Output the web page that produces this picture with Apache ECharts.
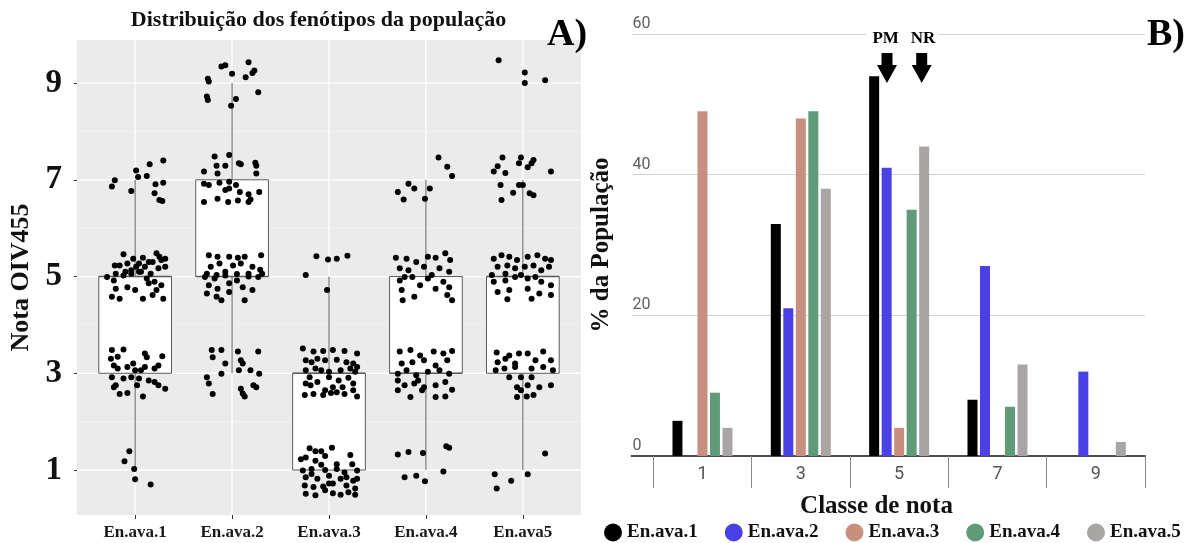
<!DOCTYPE html>
<html>
<head>
<meta charset="utf-8">
<script src="https://cdn.jsdelivr.net/npm/echarts@6/dist/echarts.min.js"></script>
<style>
html,body{margin:0;padding:0;background:#fff;}
#chart{width:1192px;height:543px;}
</style>
</head>
<body>
<div id="chart"></div>
<script>
// ---------- Panel A: distribution (boxplot + jittered points) ----------
const categories = ['En.ava.1', 'En.ava.2', 'En.ava.3', 'En.ava.4', 'En.ava5'];
const yTickValues = [1, 3, 5, 7, 9];
const yMinorValues = [2, 4, 6, 8];
const boxMin = [1, 3, 1, 1, 1];
const boxQ1  = [3, 5, 1, 3, 3];
const boxMed = [5, 5, 3, 3, 5];
const boxQ3  = [5, 7, 3, 5, 5];
const boxMax = [7, 9, 5, 7, 7];

// jittered observations: [horizontal offset from category, note value]
const jitterAva1 = [
 [-0.24,6.86],[-0.21,6.99],[-0.04,6.77],[0.01,7.19],[0.03,7.06],[0.12,7.08],[0.15,7.32],[0.20,6.72],[0.21,6.91],[0.29,6.94],[0.25,6.58],[0.28,6.56],[0.29,7.40],
 [-0.12,5.46],[-0.21,5.23],[-0.16,5.23],[-0.08,5.27],[-0.02,5.37],[0.01,5.20],[0.04,5.27],[0.08,5.39],[0.10,5.20],[0.14,5.30],[0.18,5.30],[0.22,5.48],[0.25,5.41],[0.27,5.34],[0.31,5.37],[-0.04,5.13],[-0.20,5.06],[-0.10,5.10],[0.06,5.10],[0.16,5.06],[0.24,5.17],[0.31,5.20],
 [-0.29,4.99],[-0.22,4.92],[-0.12,5.02],[-0.04,5.06],[0.04,5.10],[0.12,4.96],[0.20,4.89],[0.27,4.82],[-0.24,4.58],[-0.16,4.54],[-0.08,4.78],[0,4.72],[0.08,4.54],[0.18,4.62],[0.29,4.54],[-0.20,4.75],[0.22,4.72],[0.14,4.86],
 [-0.24,3.48],[-0.12,3.49],[0.10,3.41],[0.12,3.33],[0.28,3.35],[-0.25,3.30],[-0.22,3.16],[-0.18,3.10],[-0.08,3.13],[0,3.06],[0.06,3.06],[0.10,3.13],[0.20,3.10],[0.24,3.16],[-0.24,2.92],[-0.20,2.75],[-0.12,2.89],[-0.04,2.92],[0.04,2.89],[0.20,2.82],[0.24,2.75],[0.31,2.68],[-0.16,2.57],[-0.08,2.59],[0.08,2.52],[-0.22,2.71],[0.02,2.75],[0.14,2.85],[-0.02,3.20],[-0.18,3.34],
 [-0.06,1.39],[-0.11,1.18],[-0.01,1.02],[0,0.81],[0.16,0.70]
];
const jitterAva2 = [
 [-0.25,9.09],[-0.24,9.03],[-0.26,8.72],[-0.25,8.65],[-0.11,9.34],[-0.07,9.37],[0,9.19],[0.14,9.12],[0.17,9.43],[0.21,9.21],[0.23,9.26],[0.27,8.81],[0.04,8.67],[-0.01,8.53],
 [-0.18,7.48],[-0.16,7.29],[-0.29,7.17],[-0.03,7.51],[-0.07,7.29],[0.07,7.34],[0.09,7.32],[0.24,7.35],[0.25,7.29],[0.25,7.13],[-0.29,6.92],[-0.24,6.89],[-0.13,6.94],[-0.03,6.96],[0.04,6.89],[-0.07,6.79],[-0.03,6.82],[0.08,6.75],[0.17,6.70],[0.28,6.75],[-0.29,6.54],[-0.15,6.61],[-0.04,6.54],[0.06,6.57],[0.17,6.54],[0.19,6.59],[-0.15,7.13],
 [-0.24,5.44],[-0.15,5.41],[-0.03,5.41],[0.06,5.39],[0.13,5.41],[0.30,5.44],[-0.22,5.20],[-0.13,5.27],[0.01,5.23],[0.09,5.27],[0.21,5.20],[0.29,5.14],[-0.26,5.06],[-0.16,5.03],[-0.07,5.10],[0.05,5.05],[0.17,5.06],[0.27,4.99],
 [-0.28,4.99],[-0.18,4.96],[-0.07,5.02],[0.05,4.92],[0.17,5.00],[0.31,5.06],[-0.24,4.82],[-0.15,4.75],[-0.03,4.86],[0.11,4.78],[0.21,4.72],[-0.26,4.65],[-0.16,4.58],[-0.11,4.51],[0.13,4.51],[-0.03,4.68],
 [-0.21,3.48],[-0.11,3.48],[0.06,3.45],[0.27,3.45],[-0.20,3.33],[-0.07,3.20],[0.09,3.27],[0.11,3.20],[-0.26,2.92],[-0.24,2.79],[-0.11,2.99],[0.07,3.06],[0.19,3.06],[0.28,2.99],[-0.20,2.57],[0.09,2.68],[0.13,2.52],[0.22,2.75],[0.25,2.71],[0.11,2.58]
];
const jitterAva3 = [
 [-0.24,5.03],[-0.13,5.42],[-0.01,5.35],[0.08,5.37],[0.19,5.43],[-0.02,4.72],
 [-0.27,3.51],[-0.16,3.45],[-0.06,3.46],[0.04,3.48],[0.16,3.46],[0.29,3.41],[-0.24,3.27],[-0.18,3.23],[-0.12,3.30],[-0.04,3.27],[0.08,3.28],[0.18,3.23],[0.25,3.20],[0.29,3.13],[-0.24,3.06],[-0.14,3.10],[0,3.03],[0.12,3.06],[0.22,3.10],[0.27,3.03],[-0.24,2.79],[-0.19,2.75],[-0.12,2.82],[0,2.92],[0.10,2.85],[0.20,2.91],[0.25,2.79],[-0.25,2.55],[-0.16,2.57],[-0.06,2.55],[0.02,2.59],[0.08,2.61],[0.16,2.57],[0.29,2.52],[-0.04,2.65],[-0.20,2.92],[0.04,2.71],[0.25,2.65],[-0.08,3.06],[0.14,2.71],
 [-0.20,1.45],[-0.08,1.39],[0.03,1.46],[-0.29,1.22],[-0.24,1.26],[-0.14,1.19],[-0.04,1.29],[0.22,1.31],[0.24,1.12],[-0.27,0.99],[-0.18,1.02],[-0.04,1.00],[0.08,1.02],[0.16,0.95],[0.29,0.99],[-0.24,0.85],[-0.12,0.82],[0,0.88],[0.12,0.82],[0.25,0.78],[-0.25,0.68],[-0.16,0.65],[-0.06,0.66],[0.04,0.72],[0.18,0.68],[0.27,0.62],[-0.24,0.51],[-0.14,0.48],[-0.04,0.58],[0.04,0.52],[0.12,0.49],[0.20,0.54],[0.27,0.49],[-0.18,0.92],[0.08,1.12],[-0.08,1.11],[0.18,0.85],[0,0.72],[0.29,0.82],[-0.14,1.39]
];
const jitterAva4 = [
 [-0.29,6.75],[-0.23,6.59],[-0.18,6.92],[-0.12,6.82],[-0.01,6.61],[0.04,6.82],[0.13,7.46],[0.22,7.27],[0.27,7.08],
 [-0.31,5.39],[-0.20,5.37],[-0.10,5.30],[0.02,5.41],[0.10,5.39],[0.20,5.48],[0.25,5.34],[-0.27,5.17],[-0.18,5.13],[-0.02,5.20],[0.14,5.17],[0.24,5.10],[-0.22,4.99],[0.06,5.03],
 [-0.27,4.92],[-0.14,4.99],[0.02,4.96],[0.18,4.89],[-0.25,4.72],[-0.12,4.58],[0.10,4.75],[0.22,4.62],[0.27,4.51],[-0.24,4.51],[-0.06,4.82],[0.24,4.78],
 [-0.27,3.45],[-0.16,3.48],[-0.06,3.37],[0.08,3.45],[0.18,3.41],[0.27,3.46],[-0.25,3.20],[-0.14,3.23],[-0.02,3.27],[0.10,3.16],[0.22,3.27],[-0.29,2.99],[-0.20,3.06],[-0.10,2.96],[0.02,3.03],[0.14,3.06],[0.24,2.99],[-0.29,2.85],[-0.22,2.75],[-0.12,2.79],[-0.02,2.71],[0.10,2.75],[0.20,2.82],[-0.29,2.65],[-0.16,2.51],[-0.04,2.65],[0.10,2.51],[0.20,2.52],[0.27,2.66],[-0.08,2.85],
 [-0.29,1.32],[-0.18,1.37],[-0.03,1.35],[0.21,1.49],[0.24,1.46],[-0.22,0.85],[-0.10,0.88],[-0.01,0.77],[0.18,0.97]
];
const jitterAva5 = [
 [-0.25,9.47],[0.02,9.22],[0.02,9.00],[0.23,9.06],
 [-0.30,7.17],[-0.26,7.28],[-0.21,7.46],[-0.18,7.14],[-0.04,7.34],[-0.02,7.46],[0.05,7.26],[0.09,7.34],[0.11,7.41],[0.29,7.17],[-0.23,6.89],[-0.04,6.89],[0,6.89],[-0.22,6.58],[-0.10,6.73],[0.07,6.72],[0.11,6.68],
 [-0.30,5.37],[-0.22,5.44],[-0.14,5.41],[-0.06,5.34],[0.05,5.41],[0.15,5.44],[0.23,5.37],[0.29,5.34],[-0.26,5.20],[-0.16,5.23],[-0.08,5.17],[0.02,5.20],[0.11,5.23],[0.19,5.13],[0.27,5.20],[-0.32,5.03],[-0.18,5.06],[-0.02,5.03],[0.13,4.99],
 [-0.30,4.89],[-0.18,4.92],[-0.08,4.99],[0.05,4.96],[0.19,4.89],[0.29,4.82],[-0.26,4.68],[-0.14,4.72],[0.05,4.75],[0.17,4.65],[0.29,4.62],[-0.16,4.53],[0.09,4.54],
 [-0.27,3.43],[-0.14,3.37],[-0.04,3.41],[0.05,3.41],[0.21,3.45],[-0.26,3.23],[-0.18,3.30],[-0.08,3.20],[0.13,3.27],[0.29,3.27],[-0.28,3.06],[-0.19,3.10],[-0.08,3.13],[0.09,3.10],[0.21,3.13],[0.31,3.06],[-0.14,2.92],[-0.02,2.92],[0.09,2.92],[-0.06,2.71],[0.05,2.75],[0.17,2.71],[-0.06,2.51],[0.04,2.52],[0.11,2.55],[0.29,2.75],[-0.02,2.65],
 [-0.29,0.91],[-0.27,0.62],[-0.12,0.78],[0.05,0.91],[0.23,1.34]
];
const jitterGroups = [jitterAva1, jitterAva2, jitterAva3, jitterAva4, jitterAva5];

// ---------- Panel B: % of population by note class ----------
const classes = ['1', '3', '5', '7', '9'];
const seriesNames = ['En.ava.1', 'En.ava.2', 'En.ava.3', 'En.ava.4', 'En.ava.5'];
const ava1 = [5, 33, 54, 8, 0];
const ava2 = [0, 21, 41, 27, 12];
const ava3 = [49, 48, 4, 0, 0];
const ava4 = [9, 49, 35, 7, 0];
const ava5 = [4, 38, 44, 13, 2];
const barValues = [ava1, ava2, ava3, ava4, ava5];
const barColors = ['#000000', '#4b40e3', '#c78f80', '#5f9b78', '#a9a5a5'];

// ---------- build ----------
const SERIF = '"Liberation Serif", "Times New Roman", serif';
const SANS = 'Roboto, "Liberation Sans", sans-serif';

const gridLineData = []
  .concat(yTickValues.map(v => [v, 0]))
  .concat(yMinorValues.map(v => [v, 1]))
  .concat(categories.map((c, i) => [i + 1, 2]));

const boxData = categories.map((c, i) => [i + 1, boxMin[i], boxQ1[i], boxMed[i], boxQ3[i], boxMax[i]]);

const pointData = [];
jitterGroups.forEach((g, gi) => g.forEach(p => pointData.push([gi + 1 + p[0], p[1]])));

function renderGridLines(params, api) {
  const cs = params.coordSys;
  const v = api.value(0), kind = api.value(1);
  if (kind === 2) {
    const x = api.coord([v, 5])[0];
    return {type: 'line', shape: {x1: x, y1: cs.y, x2: x, y2: cs.y + cs.height},
      style: {stroke: '#ffffff', lineWidth: 1.3}};
  }
  const y = api.coord([1, v])[1];
  return {type: 'line', shape: {x1: cs.x, y1: y, x2: cs.x + cs.width, y2: y},
    style: {stroke: kind === 0 ? '#ffffff' : '#f6f6f6', lineWidth: kind === 0 ? 1.3 : 0.7}};
}

function renderBox(params, api) {
  const x = api.value(0);
  const pMin = api.coord([x, api.value(1)]);
  const pQ1 = api.coord([x, api.value(2)]);
  const pMed = api.coord([x, api.value(3)]);
  const pQ3 = api.coord([x, api.value(4)]);
  const pMax = api.coord([x, api.value(5)]);
  const w = api.size([0.75, 0])[0];
  const ls = {stroke: '#5c5c5c', lineWidth: 1};
  return {type: 'group', children: [
    {type: 'line', shape: {x1: pMax[0], y1: pMax[1], x2: pQ3[0], y2: pQ3[1]}, style: ls},
    {type: 'line', shape: {x1: pQ1[0], y1: pQ1[1], x2: pMin[0], y2: pMin[1]}, style: ls},
    {type: 'rect', shape: {x: pQ3[0] - w / 2, y: pQ3[1], width: w, height: pQ1[1] - pQ3[1]},
      style: {fill: '#ffffff', stroke: '#5c5c5c', lineWidth: 1}},
    {type: 'line', shape: {x1: pMed[0] - w / 2, y1: pMed[1], x2: pMed[0] + w / 2, y2: pMed[1]},
      style: {stroke: '#5c5c5c', lineWidth: 1.6}}
  ]};
}

function arrow(cx) {
  return {type: 'polygon', z: 100,
    shape: {points: [[cx - 5.5, 53], [cx + 5.5, 53], [cx + 5.5, 65], [cx + 10, 65], [cx, 83], [cx - 10, 65], [cx - 5.5, 65]]},
    style: {fill: '#000'}};
}

const chart = echarts.init(document.getElementById('chart'), null, {renderer: 'canvas'});

const option = {
  animation: false,
  backgroundColor: '#ffffff',
  grid: [
    {left: 77, top: 40, width: 504, height: 475, show: true, backgroundColor: '#ebebeb', borderWidth: 0, containLabel: false},
    {left: 631.5, top: 34, width: 513.5, height: 422, containLabel: false},
    {left: 653.3, top: 34, width: 491.7, height: 422, containLabel: false}
  ],
  xAxis: [
    {gridIndex: 0, type: 'value', min: 0.4, max: 5.6,
      axisLine: {show: false}, splitLine: {show: false},
      axisTick: {show: true, customValues: [1, 2, 3, 4, 5], length: 4, lineStyle: {color: '#333'}},
      axisLabel: {customValues: [1, 2, 3, 4, 5], margin: 9,
        formatter: v => categories[Math.round(v) - 1] || '',
        fontFamily: SERIF, fontWeight: 'bold', fontSize: 17, color: '#1a1a1a'}},
    {gridIndex: 1, type: 'value', min: 0, max: 1,
      axisLine: {show: true, lineStyle: {color: '#4d4d4d', width: 2}},
      axisTick: {show: false}, axisLabel: {show: false}, splitLine: {show: false}},
    {gridIndex: 2, type: 'category', data: classes, boundaryGap: true,
      axisLine: {show: false},
      axisTick: {show: true, length: 32, alignWithLabel: false, lineStyle: {color: '#8a8a8a', width: 1}},
      axisLabel: {margin: 9, fontFamily: SANS, fontSize: 18, color: '#555'}}
  ],
  yAxis: [
    {gridIndex: 0, type: 'value', min: 0.07, max: 9.89,
      axisLine: {show: false}, splitLine: {show: false},
      axisTick: {show: true, customValues: yTickValues, length: 3, lineStyle: {color: '#333'}},
      axisLabel: {customValues: yTickValues, margin: 15,
        fontFamily: SERIF, fontWeight: 'bold', fontSize: 33, color: '#111'},
      name: 'Nota OIV455', nameLocation: 'middle', nameGap: 43,
      nameTextStyle: {fontFamily: SERIF, fontWeight: 'bold', fontSize: 26, color: '#111'}},
    {gridIndex: 1, type: 'value', min: 0, max: 60, interval: 20,
      axisLine: {show: false}, axisTick: {show: false},
      splitLine: {show: true, lineStyle: {color: '#d2d2d2', width: 1}},
      axisLabel: {inside: true, margin: 1, align: 'left', verticalAlign: 'bottom', padding: [0, 0, 2, 0],
        fontFamily: SANS, fontSize: 16, color: '#5f5f5f'},
      name: '% da População', nameLocation: 'middle', nameGap: 17,
      nameTextStyle: {fontFamily: SERIF, fontWeight: 'bold', fontSize: 25, color: '#111'}},
    {gridIndex: 2, type: 'value', min: 0, max: 60, show: false}
  ],
  legend: {
    data: seriesNames, top: 523, left: 604, itemWidth: 18, itemHeight: 18, itemGap: 27,
    icon: 'circle', padding: 0,
    textStyle: {fontFamily: SERIF, fontWeight: 'bold', fontSize: 19, color: '#111'}
  },
  series: [
    {type: 'custom', name: 'grid', xAxisIndex: 0, yAxisIndex: 0, z: 1, silent: true,
      renderItem: renderGridLines, data: gridLineData},
    {type: 'custom', name: 'box', xAxisIndex: 0, yAxisIndex: 0, z: 2, silent: true,
      renderItem: renderBox, data: boxData},
    {type: 'scatter', name: 'obs', xAxisIndex: 0, yAxisIndex: 0, z: 3, silent: true,
      symbolSize: 6, itemStyle: {color: '#000', opacity: 1}, data: pointData}
  ].concat(seriesNames.map((n, i) => ({
    type: 'bar', name: n, xAxisIndex: 2, yAxisIndex: 2, data: barValues[i],
    barWidth: 10, barGap: '25%', itemStyle: {color: barColors[i]}
  }))),
  graphic: [
    {type: 'text', x: 318.5, y: 20, style: {text: 'Distribuição dos fenótipos da população',
      font: 'bold 22px ' + SERIF, fill: '#111', textAlign: 'center', textVerticalAlign: 'middle', align: 'center', verticalAlign: 'middle'}},
    {type: 'text', x: 567, y: 35, style: {text: 'A)', font: 'bold 38px ' + SERIF, fill: '#000',
      textAlign: 'center', textVerticalAlign: 'middle', align: 'center', verticalAlign: 'middle'}},
    {type: 'text', x: 1166, y: 35, style: {text: 'B)', font: 'bold 38px ' + SERIF, fill: '#000',
      textAlign: 'center', textVerticalAlign: 'middle', align: 'center', verticalAlign: 'middle'}},
    {type: 'text', x: 876.5, y: 507, style: {text: 'Classe de nota', font: 'bold 25px ' + SERIF, fill: '#111',
      textAlign: 'center', textVerticalAlign: 'middle', align: 'center', verticalAlign: 'middle'}},
    {type: 'rect', z: 99, shape: {x: 866, y: 27, width: 73, height: 15}, style: {fill: '#fff'}},
    {type: 'text', z: 100, x: 885.6, y: 39, style: {text: 'PM', font: 'bold 17px ' + SERIF, fill: '#000',
      textAlign: 'center', textVerticalAlign: 'middle', align: 'center', verticalAlign: 'middle'}},
    {type: 'text', z: 100, x: 923, y: 39, style: {text: 'NR', font: 'bold 17px ' + SERIF, fill: '#000',
      textAlign: 'center', textVerticalAlign: 'middle', align: 'center', verticalAlign: 'middle'}},
    arrow(887), arrow(921.7)
  ]
};
chart.setOption(option);
</script>
</body>
</html>
